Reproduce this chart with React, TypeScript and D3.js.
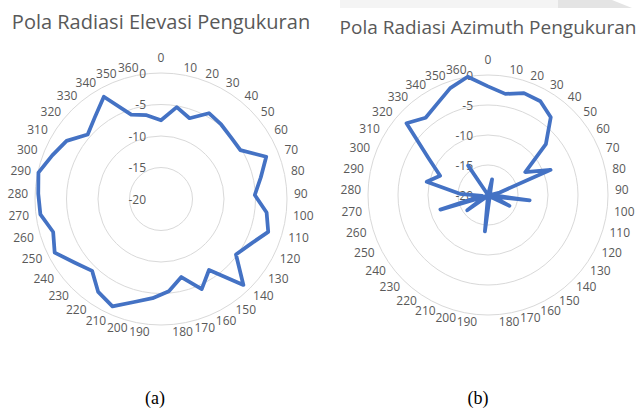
import { useEffect, useRef } from "react";
import * as d3 from "d3";

// category labels (degrees), 0..360 step 10
const angleLabels = [
  "0", "10", "20", "30", "40", "50", "60", "70", "80", "90",
  "100", "110", "120", "130", "140", "150", "160", "170", "180", "190",
  "200", "210", "220", "230", "240", "250", "260", "270", "280", "290",
  "300", "310", "320", "330", "340", "350", "360",
];

// value axis ticks (dB)
const ringValues = [0, -5, -10, -15, -20];

// (a) elevation pattern, dB
const elevasiValues = [
  -7.5, -5.2, -6.4, -4.4, -4.8, -5.2, -5.2, -2.0, -3.8, -5.1,
  -3.1, -2.2, -4.1, -5.2, -1.1, -6.4, -4.3, -7.2, -5.3, -4.2,
  -3.1, -1.3, -2.2, -4.2, -3.0, -1.1, -2.1, -0.7, -0.5, -0.1,
  -1.4, -2.4, -4.5, -3.3, -1.4, -5.8, -6.5,
];

// (b) azimuth pattern, dB (values under -20 fall through the centre)
const azimuthValues = [
  -1.9, -2.9, -2.0, -2.1, -3.35, -7.15, -12.7, -8.75, -18, -19.5,
  -13, -19, -16, -19.5, -20, -25.9, -20, -19.5, -20, -13.9,
  -22.7, -20, -19.5, -19.5, -15.7, -19.5, -11.7, -19, -15.3, -9.55,
  -11.4, -8.4, -1.9, -3.45, -2.6, -1.1, 0,
];

const GRAY = "#595959";
const LINE = "#4472C4";

interface RadarOpts {
  cx: number;
  cy: number;
  radius: number;
  title: string;
  titleY: number;
  titleSize: number;
  values: number[];
}

function drawRadar(
  svg: d3.Selection<SVGSVGElement, unknown, null, undefined>,
  { cx, cy, radius, title, titleY, titleSize, values }: RadarOpts
) {
  const r = d3.scaleLinear().domain([-20, 0]).range([0, radius]);
  const angle = d3
    .scaleLinear()
    .domain([0, angleLabels.length])
    .range([0, 2 * Math.PI]);

  // title
  svg
    .append("text")
    .attr("x", cx)
    .attr("y", titleY)
    .attr("text-anchor", "middle")
    .style("font-family", "'Open Sans', sans-serif")
    .style("font-size", `${titleSize}px`)
    .style("fill", GRAY)
    .text(title);

  const g = svg.append("g").attr("transform", `translate(${cx},${cy})`);

  // circular gridlines
  g.selectAll(".ring")
    .data(ringValues.filter((v) => r(v) > 0))
    .enter()
    .append("circle")
    .attr("r", (d) => r(d))
    .attr("fill", "none")
    .attr("stroke", "#d9d9d9")
    .attr("stroke-width", 1);

  // value axis labels
  g.selectAll(".ring-label")
    .data(ringValues)
    .enter()
    .append("text")
    .attr("x", -15)
    .attr("y", (d) => -r(d))
    .attr("text-anchor", "end")
    .attr("dominant-baseline", "central")
    .style("font-family", "'Open Sans', sans-serif")
    .style("font-size", "12px")
    .style("fill", GRAY)
    .text((d) => d.toString());

  // category labels
  const lr = radius + 7;
  g.selectAll(".cat")
    .data(angleLabels)
    .enter()
    .append("text")
    .each(function (d, i) {
      const a = angle(i);
      const s = Math.sin(a);
      const c = Math.cos(a);
      const t = d3.select(this);
      if (Math.abs(s) < 0.01) {
        t.attr("x", 0)
          .attr("y", -(radius + 16) * c)
          .attr("text-anchor", "middle");
      } else {
        t.attr("x", lr * s)
          .attr("y", -lr * c)
          .attr("text-anchor", s > 0 ? "start" : "end");
      }
    })
    .attr("dominant-baseline", "central")
    .style("font-family", "'Open Sans', sans-serif")
    .style("font-size", "12px")
    .style("fill", GRAY)
    .text((d) => d);

  // data line
  const line = d3
    .lineRadial<number>()
    .angle((_, i) => angle(i))
    .radius((d) => r(d))
    .curve(d3.curveLinearClosed);

  g.append("path")
    .datum(values)
    .attr("fill", "none")
    .attr("stroke", LINE)
    .attr("stroke-width", 3.75)
    .attr("stroke-linejoin", "round")
    .attr("d", line);
}

export default function App() {
  const ref = useRef<SVGSVGElement>(null);

  useEffect(() => {
    document.body.style.margin = "0";
    if (!ref.current) return;
    const svg = d3.select(ref.current);
    svg.selectAll("*").remove();

    // faint grey band at the top right of the scan
    svg
      .append("rect")
      .attr("x", 340)
      .attr("y", 0)
      .attr("width", 220)
      .attr("height", 8)
      .attr("fill", "#f4f4f4");
    svg
      .append("path")
      .attr("d", "M558,0 L612,0 L632,8 L558,8 Z")
      .attr("fill", "#e4e4e4");

    drawRadar(svg, {
      cx: 161,
      cy: 199,
      radius: 126,
      title: "Pola Radiasi Elevasi Pengukuran",
      titleY: 29,
      titleSize: 20,
      values: elevasiValues,
    });

    drawRadar(svg, {
      cx: 488,
      cy: 195,
      radius: 120,
      title: "Pola Radiasi Azimuth Pengukuran",
      titleY: 34,
      titleSize: 19,
      values: azimuthValues,
    });

    // sub-figure captions
    svg
      .selectAll(".caption")
      .data(["(a)", "(b)"])
      .enter()
      .append("text")
      .attr("x", (_, i) => (i === 0 ? 155 : 478))
      .attr("y", 404)
      .attr("text-anchor", "middle")
      .style("font-family", "'Liberation Serif', 'Times New Roman', serif")
      .style("font-size", "18px")
      .style("fill", "#000")
      .text((d) => d);
  }, []);

  return (
    <svg
      ref={ref}
      width={638}
      height={409}
      style={{ display: "block", background: "#fff" }}
    />
  );
}
